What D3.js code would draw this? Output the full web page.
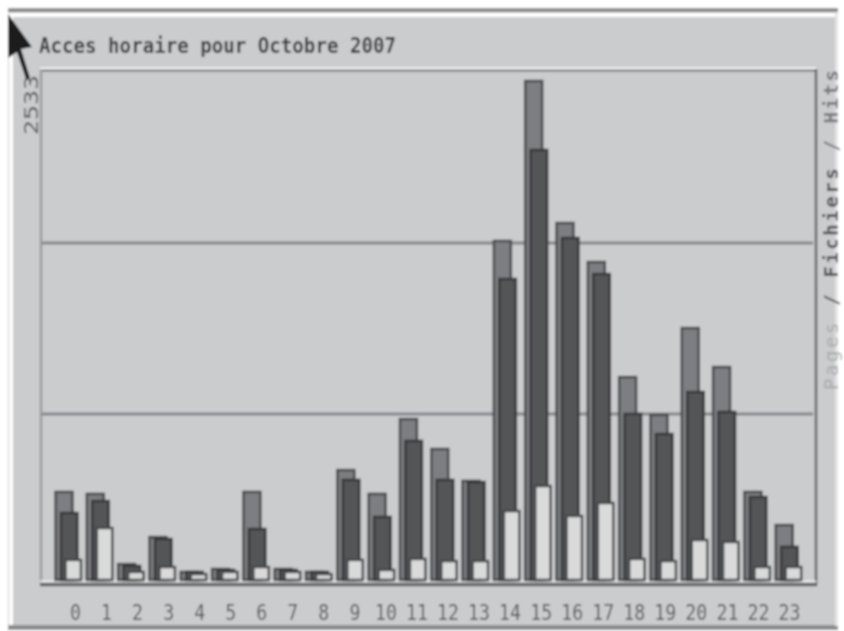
<!DOCTYPE html>
<html>
<head>
<meta charset="utf-8">
<script src="https://cdn.jsdelivr.net/npm/d3@7"></script>
<style>
  html, body { margin: 0; padding: 0; background: #fff; }
  svg { display: block; }
  text { font-family: "DejaVu Sans Mono", monospace; }
</style>
</head>
<body>
<div id="chart"></div>
<script>
// values
const hours = d3.range(0, 24).map(String);
const hits = [447, 437, 81, 218, 41, 56, 447, 56, 41, 558, 437, 817, 665, 503, 1721, 2533, 1812, 1614, 1030, 838, 1279, 1081, 447, 279];
const files = [340, 401, 71, 208, 41, 51, 259, 51, 41, 508, 320, 706, 508, 497, 1528, 2183, 1736, 1553, 843, 741, 954, 853, 421, 168];
const pages = [102, 264, 41, 66, 30, 41, 66, 41, 30, 102, 51, 107, 96, 96, 350, 477, 325, 391, 107, 96, 203, 193, 66, 66];
const gridValues = [843, 1711];
const maxValue = 2533;
const titleText = "Acces horaire pour Octobre 2007";

const width = 844, height = 631;

const svg = d3.select("#chart")
  .append("svg")
  .attr("width", width)
  .attr("height", height);

// the scan is soft, so everything gets a slight blur
svg.append("defs").append("filter")
  .attr("id", "soft")
  .attr("x", 0).attr("y", 0).attr("width", 1).attr("height", 1)
  .append("feGaussianBlur")
  .attr("stdDeviation", 0.8);

const root = svg.append("g").attr("filter", "url(#soft)");

// white sheet under the panel so the blur stays clean
root.append("rect").attr("width", width).attr("height", height).attr("fill", "#fff");

// outer panel
root.append("rect").attr("x", 8).attr("y", 10).attr("width", 830).attr("height", 618).attr("fill", "#cbccce");
root.append("rect").attr("x", 8).attr("y", 8).attr("width", 830).attr("height", 4).attr("fill", "#8b8c8e");
root.append("rect").attr("x", 8).attr("y", 13).attr("width", 830).attr("height", 4).attr("fill", "#fff");
root.append("rect").attr("x", 9).attr("y", 13).attr("width", 4).attr("height", 615).attr("fill", "#fff");
root.append("rect").attr("x", 8).attr("y", 625).attr("width", 830).attr("height", 5).attr("fill", "#8b8c8e");
root.append("rect").attr("x", 835).attr("y", 12).attr("width", 3).attr("height", 614).attr("fill", "#e4e4e5");

const y = d3.scaleLinear().domain([0, maxValue]).range([580, 81]);
const x = d3.scaleBand().domain(hours).range([50, 801.5]);
const xLabels = d3.scalePoint().domain(hours).range([75, 789]);

// plot frame
root.append("line").attr("x1", 40).attr("x2", 816).attr("y1", 68.5).attr("y2", 68.5).attr("stroke", "#fff").attr("stroke-width", 2);
root.append("line").attr("x1", 40).attr("x2", 816).attr("y1", 70.5).attr("y2", 70.5).attr("stroke", "#6f7072").attr("stroke-width", 2);
root.append("line").attr("x1", 41).attr("x2", 41).attr("y1", 70).attr("y2", 585).attr("stroke", "#9a9b9d").attr("stroke-width", 2.5);
root.append("line").attr("x1", 816).attr("x2", 816).attr("y1", 69).attr("y2", 586).attr("stroke", "#616264").attr("stroke-width", 2.5);
root.append("line").attr("x1", 40).attr("x2", 816).attr("y1", 581.5).attr("y2", 581.5).attr("stroke", "#f2f2f2").attr("stroke-width", 2);
root.append("line").attr("x1", 40).attr("x2", 817).attr("y1", 584.5).attr("y2", 584.5).attr("stroke", "#616264").attr("stroke-width", 3.5);

// grid lines
root.append("g").selectAll("line")
  .data(gridValues)
  .join("line")
  .attr("x1", 42).attr("x2", 813)
  .attr("y1", d => y(d)).attr("y2", d => y(d))
  .attr("stroke", "#85868a")
  .attr("stroke-width", 3);

// one group per series, back to front
function drawBars(values, offset, barWidth, fill, stroke) {
  root.append("g").selectAll("rect")
    .data(values)
    .join("rect")
    .attr("x", (d, i) => x(hours[i]) + offset)
    .attr("y", d => y(d))
    .attr("width", barWidth)
    .attr("height", d => y(0) - y(d))
    .attr("fill", fill)
    .attr("stroke", stroke)
    .attr("stroke-width", 2.5);
}
drawBars(hits, 5.5, 17, "#7d7e81", "#47484b");
drawBars(files, 11, 16.5, "#535457", "#37383b");
drawBars(pages, 15.5, 15.5, "#d9dad9", "#47484c");

// hour labels
const xAxis = root.append("g")
  .attr("transform", "translate(0,612)")
  .call(d3.axisBottom(xLabels).tickSize(0).tickPadding(0));
xAxis.select(".domain").remove();
xAxis.selectAll("text")
  .attr("dy", "0.36em")
  .attr("y", 0)
  .attr("fill", "#55565a")
  .style("font-size", "21px")
  .each(function (d) {
    d3.select(this).attr("textLength", d.length > 1 ? 22 : 11).attr("lengthAdjust", "spacingAndGlyphs");
  });

// title
root.append("text")
  .attr("x", 39).attr("y", 53)
  .attr("textLength", 357)
  .attr("lengthAdjust", "spacingAndGlyphs")
  .attr("fill", "#3a3b3e")
  .attr("font-weight", "bold")
  .style("font-size", "22px")
  .text(titleText);

// max value on the left
root.append("text")
  .attr("transform", "translate(38,135) rotate(-90)")
  .attr("textLength", 60)
  .attr("lengthAdjust", "spacingAndGlyphs")
  .attr("fill", "#55565a")
  .style("font-size", "19px")
  .text(String(maxValue));

// legend on the right, reads upwards
const legend = root.append("text")
  .attr("transform", "translate(838,390) rotate(-90)")
  .attr("textLength", 320)
  .attr("lengthAdjust", "spacing")
  .style("font-size", "19px");
legend.append("tspan").attr("fill", "#a9aaac").text("Pages");
legend.append("tspan").attr("fill", "#505154").attr("font-weight", "bold").text(" / Fichiers");
legend.append("tspan").attr("fill", "#77787b").attr("font-weight", "bold").text(" / Hits");

// black arrow drawn over the top left corner of the scan
root.append("path")
  .attr("d", "M8,14 L32,47 L21,49 L30,78 L26,79 L17,52 L8,58 Z")
  .attr("fill", "#1b1b1d");
</script>
</body>
</html>
